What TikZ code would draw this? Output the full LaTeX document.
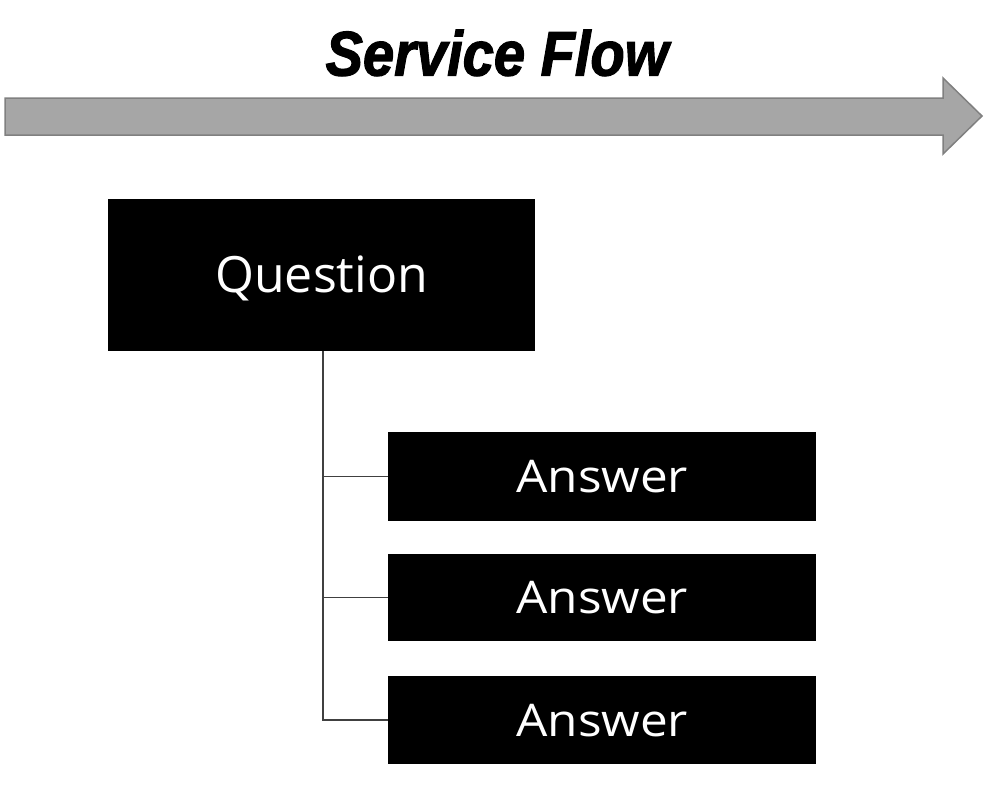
\documentclass[tikz,border=0pt]{standalone}
\usepackage{fontspec}
\setmainfont{Open Sans}
\newfontfamily\titlefont[BoldItalicFeatures={FakeBold=2}]{Liberation Sans}
\tikzset{
  blackbox/.style={fill=black, draw=none, text=white, inner sep=0pt, anchor=north west},
  conn/.style={draw=black!75, line width=1.5pt},
  flowarrow/.style={fill=black!35, draw=black!50, line width=1.5pt, line join=miter},
  anstext/.style={text=white, font=\fontsize{45}{45}\selectfont}
}
\begin{document}
\begin{tikzpicture}[x=1pt,y=-1pt]
\useasboundingbox (0,0) rectangle (988,787);
% title
\node (title) at (497,53) {\titlefont\bfseries\itshape\fontsize{63}{63}\selectfont\scalebox{0.89}[1]{Service Flow}};
% arrow
\draw[flowarrow] (5,98) -- (943,98) -- (943,78) -- (982,116) -- (943,154) -- (943,135) -- (5,135) -- cycle;
% boxes
\node[blackbox, minimum width=427pt, minimum height=152pt] (q) at (108,199) {};
\node[text=white] (qt) at ([yshift=-3pt]q.center) {\fontsize{50}{50}\selectfont Question};
\node[blackbox, minimum width=428pt, minimum height=89pt] (a1) at (388,432) {};
\node[blackbox, minimum width=428pt, minimum height=87pt] (a2) at (388,554) {};
\node[blackbox, minimum width=428pt, minimum height=88pt] (a3) at (388,676) {};
\node[anstext] (a1t) at (a1.center) {\scalebox{1.1}[1]{Answer}};
\node[anstext] (a2t) at (a2.center) {\scalebox{1.1}[1]{Answer}};
\node[anstext] (a3t) at (a3.center) {\scalebox{1.1}[1]{Answer}};
% connectors
\coordinate (trunk) at (323,351);
\draw[conn] (trunk) |- (a3.west);
\draw[conn] (trunk |- a1.west) -- (a1.west);
\draw[conn] (trunk |- a2.west) -- (a2.west);
\end{tikzpicture}
\end{document}
